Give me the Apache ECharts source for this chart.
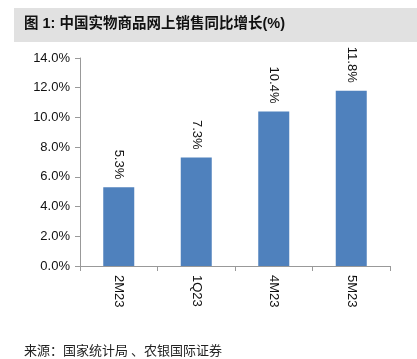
<!DOCTYPE html>
<html><head><meta charset="utf-8">
<script src="https://cdn.jsdelivr.net/npm/echarts@6/dist/echarts.min.js"></script>
<style>html,body{margin:0;padding:0;background:#fff}#c{width:417px;height:359px}</style>
</head><body><div id="c"></div>
<script>
const categories = ['2M23', '1Q23', '4M23', '5M23'];
const values = [5.3, 7.3, 10.4, 11.8];
const yTicks = [0, 2, 4, 6, 8, 10, 12, 14];
const titleText = '图 1: 中国实物商品网上销售同比增长(%)';
const sourceText = '来源：国家统计局 、农银国际证券';

const chart = echarts.init(document.getElementById('c'), null, {renderer: 'canvas'});
chart.setOption({
  animation: false,
  backgroundColor: '#fff',
  graphic: [
    {type: 'rect', shape: {x: 14, y: 8, width: 403, height: 34}, style: {fill: '#e1e1e1'}, z: -1},
    {type: 'text', left: 24, top: 17, style: {text: titleText, font: 'bold 14.5px "Liberation Sans", "Noto Sans CJK SC", sans-serif', fill: '#111'}},
    {type: 'text', left: 24, top: 344, style: {text: sourceText, font: '13px "Noto Sans CJK SC", serif', fill: '#222'}}
  ],
  grid: {left: 80, top: 58, right: 27, bottom: 93, containLabel: false},
  xAxis: {
    type: 'category', data: categories,
    axisLine: {lineStyle: {color: '#999'}},
    axisTick: {show: true, length: 5, lineStyle: {color: '#999'}},
    axisLabel: {rotate: -90, margin: 9, fontSize: 13, color: '#111', fontFamily: '"Liberation Sans", Arial, sans-serif'}
  },
  yAxis: {
    type: 'value', min: yTicks[0], max: yTicks[yTicks.length - 1], interval: 2,
    axisLine: {show: true, lineStyle: {color: '#999'}},
    axisTick: {show: true, length: 5, lineStyle: {color: '#999'}},
    splitLine: {show: false},
    axisLabel: {formatter: v => v.toFixed(1) + '%', fontSize: 13, color: '#111', margin: 10, fontFamily: '"Liberation Sans", Arial, sans-serif'}
  },
  series: [{
    type: 'bar', data: values, barWidth: '40%',
    itemStyle: {color: '#4f81bd'},
    label: {
      show: true, position: 'top', rotate: -90, align: 'right', verticalAlign: 'middle', distance: 8,
      formatter: p => p.value.toFixed(1) + '%', fontSize: 13, color: '#111',
      fontFamily: '"Liberation Sans", Arial, sans-serif'
    }
  }]
});
</script></body></html>
